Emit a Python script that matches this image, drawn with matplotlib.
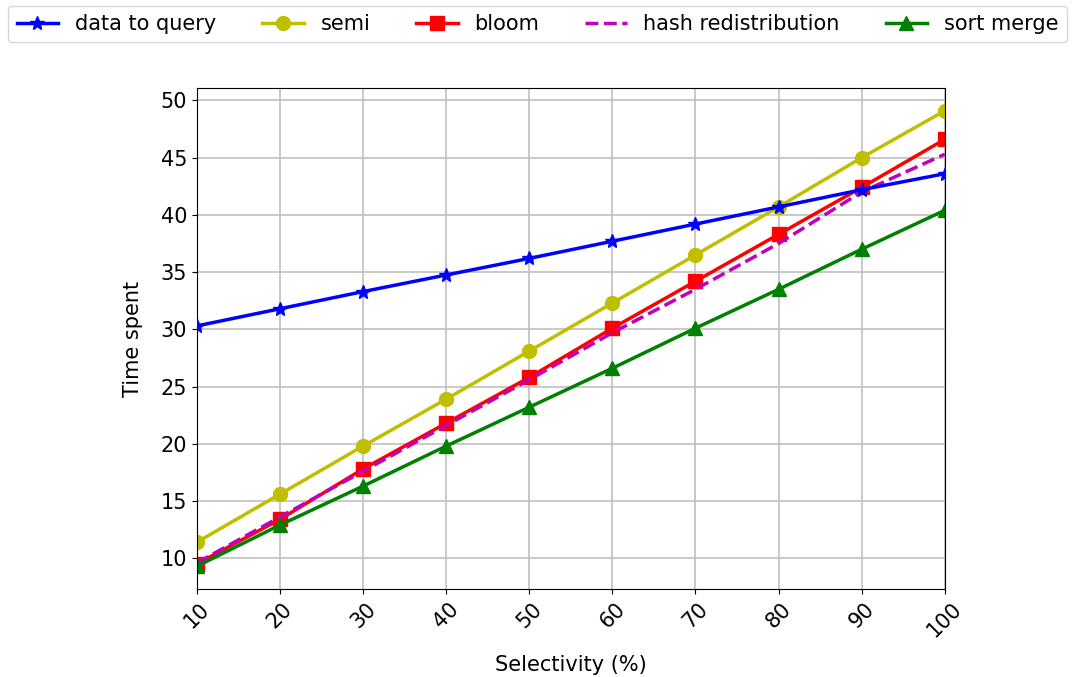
import matplotlib
matplotlib.use("Agg")
import matplotlib.pyplot as plt
import numpy as np

selectivity = [10, 20, 30, 40, 50, 60, 70, 80, 90, 100]
data_to_query = [30.3, 31.8, 33.3, 34.75, 36.2, 37.7, 39.2, 40.7, 42.2, 43.6]
semi = [11.4, 15.6, 19.8, 23.9, 28.1, 32.3, 36.5, 40.7, 45.0, 49.1]
bloom = [9.5, 13.4, 17.8, 21.8, 25.8, 30.1, 34.2, 38.3, 42.4, 46.6]
hash_redis = [9.6, 13.6, 17.6, 21.6, 25.6, 29.7, 33.5, 37.5, 42.0, 45.3]
sort_merge = [9.3, 12.9, 16.3, 19.8, 23.2, 26.6, 30.1, 33.5, 37.0, 40.4]

plt.rcParams["font.size"] = 15

fig = plt.figure(figsize=(10.76, 6.77), dpi=100)
ax = fig.add_axes([0.183, 0.130, 0.695, 0.740])

ax.plot(selectivity, data_to_query, "b-*", lw=2.5, ms=10, label="data to query", zorder=5)
ax.plot(selectivity, semi, "y-o", lw=2.5, ms=10, label="semi")
ax.plot(selectivity, bloom, "r-s", lw=2.5, ms=9.5, label="bloom")
ax.plot(selectivity, hash_redis, "m--", lw=2.5, label="hash redistribution")
ax.plot(selectivity, sort_merge, "g-^", lw=2.5, ms=10, label="sort merge")

ax.set_xlim(10, 100)
ax.set_xticks(selectivity)
plt.setp(ax.get_xticklabels(), rotation=45)
ax.grid(True, color="#c0c0c0", lw=1.2)
ax.set_axisbelow(True)
ax.set_xlabel("Selectivity (%)", labelpad=10)
ax.set_ylabel("Time spent", labelpad=13)

fig.legend(loc="upper left", bbox_to_anchor=(-0.002, 1.007), ncol=5,
           columnspacing=2.2, handlelength=2.0, fontsize=15)

fig.savefig("out.png", dpi=100)
